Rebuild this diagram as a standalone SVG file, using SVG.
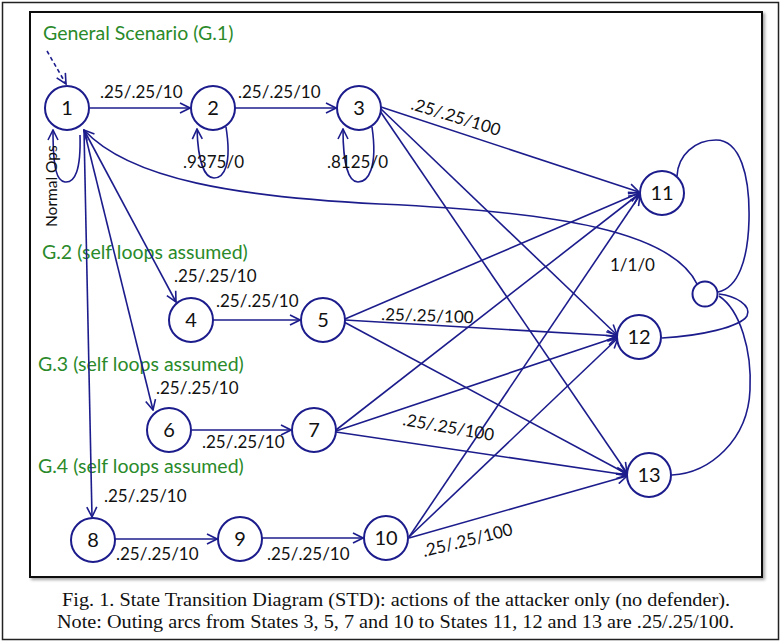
<svg xmlns="http://www.w3.org/2000/svg" width="781" height="642" viewBox="0 0 781 642">
<style>
.e{fill:none;stroke:#1c1c8c;stroke-width:1.6}
.n circle{fill:#fff;stroke:#1c1c8c;stroke-width:2}
.n text{font-family:Lato,"Liberation Sans",sans-serif;font-size:20px;fill:#111;text-anchor:middle}
.l{font-family:Lato,"Liberation Sans",sans-serif;font-size:17px;fill:#111}
.g{font-family:Lato,"Liberation Sans",sans-serif;font-size:19.5px;fill:#2a8a2a}
.c{font-family:"Liberation Serif",serif;font-size:19px;fill:#111}
</style>
<defs>
<marker id="a" viewBox="0 0 12 12" refX="11" refY="6" markerWidth="12" markerHeight="12" markerUnits="userSpaceOnUse" orient="auto">
<path d="M1,1 L11,6 L1,11" fill="none" stroke="#1c1c8c" stroke-width="1.6"/>
</marker>
<filter id="sh" x="-5%" y="-5%" width="110%" height="110%"><feDropShadow dx="2" dy="2" stdDeviation="1.5" flood-color="#000" flood-opacity="0.35"/></filter>
</defs>
<rect x="0" y="0" width="781" height="642" fill="#fff"/>
<rect x="2.5" y="2.5" width="776" height="637" fill="none" stroke="#222" stroke-width="1.5"/>
<rect x="30" y="12" width="732" height="565" fill="#fff" stroke="#111" stroke-width="2" filter="url(#sh)"/>

<g id="labels-groups">
<text class="g" x="43" y="40">General Scenario (G.1)</text>
<text class="g" x="42" y="259">G.2 (self loops assumed)</text>
<text class="g" x="38" y="371">G.3 (self loops assumed)</text>
<text class="g" x="38" y="473">G.4 (self loops assumed)</text>
</g>

<g id="connectors">
<path class="e" d="M47,51 L66,84" stroke-dasharray="4,3" marker-end="url(#a)"/>
<path class="e" d="M90,108 L190,108" marker-end="url(#a)"/>
<path class="e" d="M235,108 L336,108" marker-end="url(#a)"/>
<path class="e" d="M80,135 C81,170 75,183 65,182 C57,181 53,170 53,130" marker-end="url(#a)"/>
<path class="e" d="M226,127 C232,165 224,178 214,178 C204,178 198,160 197,129" marker-end="url(#a)"/>
<path class="e" d="M372,127 C378,168 368,182 358,182 C348,182 343,162 343,129" marker-end="url(#a)"/>
<path class="e" d="M84,130 L176,302" marker-end="url(#a)"/>
<path class="e" d="M84,130 L153,410" marker-end="url(#a)"/>
<path class="e" d="M84,130 L92,517" marker-end="url(#a)"/>
<path class="e" d="M213,320 L300,320" marker-end="url(#a)"/>
<path class="e" d="M192,430 L291,430" marker-end="url(#a)"/>
<path class="e" d="M115,539 L217,539" marker-end="url(#a)"/>
<path class="e" d="M262,538 L363,538" marker-end="url(#a)"/>
<path class="e" d="M381,107 L639,192" marker-end="url(#a)"/>
<path class="e" d="M381,109 L617,335" marker-end="url(#a)"/>
<path class="e" d="M380,111 L627,473" marker-end="url(#a)"/>
<path class="e" d="M345,319 L639,193" marker-end="url(#a)"/>
<path class="e" d="M345,320 L617,336" marker-end="url(#a)"/>
<path class="e" d="M344,322 L627,474" marker-end="url(#a)"/>
<path class="e" d="M336,430 L639,194" marker-end="url(#a)"/>
<path class="e" d="M336,431 L617,337" marker-end="url(#a)"/>
<path class="e" d="M336,432 L627,475" marker-end="url(#a)"/>
<path class="e" d="M409,537 L640,195" marker-end="url(#a)"/>
<path class="e" d="M409,537 L618,338" marker-end="url(#a)"/>
<path class="e" d="M409,538 L627,476" marker-end="url(#a)"/>
<path class="e" d="M697,284 C672,232 560,212 380,204 C240,197 130,180 84,130" marker-end="url(#a)"/>
<path class="e" d="M677,176 C678,155 695,140 716,140 C740,140 750,175 749,220 C748,260 738,288 718,292"/>
<path class="e" d="M662,338 C700,336 740,327 747,316 C752,305 735,296 719,294"/>
<path class="e" d="M719,296 C740,310 752,350 750,390 C748,440 710,473 672,475"/>
</g>

<g id="edge-labels">
<text class="l" x="100" y="98">.25/.25/10</text>
<text class="l" x="238" y="98">.25/.25/10</text>
<text class="l" x="183" y="168">.9375/0</text>
<text class="l" x="327" y="168">.8125/0</text>
<text class="l" x="0" y="0" transform="translate(57,227) rotate(-90)" style="font-size:15.5px">Normal Ops</text>
<text class="l" x="0" y="0" transform="translate(410,109) rotate(17)">.25/.25/100</text>
<text class="l" x="610" y="271">1/1/0</text>
<text class="l" x="174" y="282">.25/.25/10</text>
<text class="l" x="216" y="307">.25/.25/10</text>
<text class="l" x="0" y="0" transform="translate(381,320) rotate(2)">.25/.25/100</text>
<text class="l" x="156" y="394">.25/.25/10</text>
<text class="l" x="202" y="448">.25/.25/10</text>
<text class="l" x="0" y="0" transform="translate(402,425) rotate(10)">.25/.25/100</text>
<text class="l" x="104" y="502">.25/.25/10</text>
<text class="l" x="116" y="560">.25/.25/10</text>
<text class="l" x="267" y="560">.25/.25/10</text>
<text class="l" x="0" y="0" transform="translate(424,557) rotate(-14)">.25/.25/100</text>
</g>

<g id="n1" class="n"><circle cx="67" cy="108" r="22"/><text x="67" y="115">1</text></g>
<g id="n2" class="n"><circle cx="213" cy="108" r="22"/><text x="213" y="115">2</text></g>
<g id="n3" class="n"><circle cx="359" cy="108" r="22"/><text x="359" y="115">3</text></g>
<g id="n4" class="n"><circle cx="191" cy="320" r="22"/><text x="191" y="327">4</text></g>
<g id="n5" class="n"><circle cx="323" cy="320" r="22"/><text x="323" y="327">5</text></g>
<g id="n6" class="n"><circle cx="169" cy="430" r="22"/><text x="169" y="437">6</text></g>
<g id="n7" class="n"><circle cx="314" cy="430" r="22"/><text x="314" y="437">7</text></g>
<g id="n8" class="n"><circle cx="93" cy="540" r="22"/><text x="93" y="547">8</text></g>
<g id="n9" class="n"><circle cx="240" cy="539" r="22"/><text x="240" y="546">9</text></g>
<g id="n10" class="n"><circle cx="386" cy="538" r="22"/><text x="386" y="545">10</text></g>
<g id="n11" class="n"><circle cx="662" cy="193" r="22"/><text x="662" y="200">11</text></g>
<g id="n12" class="n"><circle cx="639" cy="337" r="22"/><text x="639" y="344">12</text></g>
<g id="n13" class="n"><circle cx="649" cy="475" r="22"/><text x="649" y="482">13</text></g>
<g id="nx" class="n"><circle cx="705" cy="294" r="12.5"/></g>

<g id="caption">
<text class="c" x="62" y="606" textLength="668" lengthAdjust="spacingAndGlyphs">Fig. 1. State Transition Diagram (STD): actions of the attacker only (no defender).</text>
<text class="c" x="57" y="628" textLength="677" lengthAdjust="spacingAndGlyphs">Note: Outing arcs from States 3, 5, 7 and 10 to States 11, 12 and 13 are .25/.25/100.</text>
</g>
</svg>
